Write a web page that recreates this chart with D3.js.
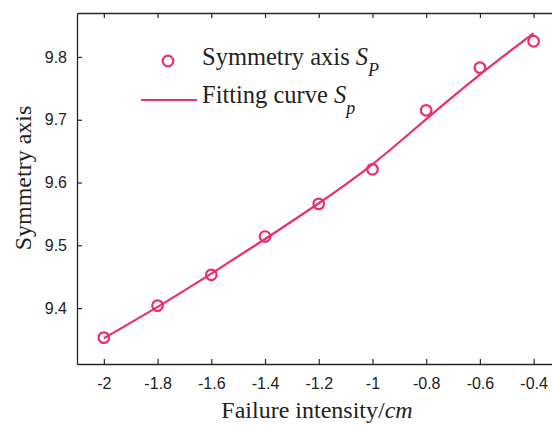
<!DOCTYPE html>
<html>
<head>
<meta charset="utf-8">
<script src="https://cdn.jsdelivr.net/npm/d3@7"></script>
<style>
  body { margin: 0; background: #fff; }
  svg { display: block; }
</style>
</head>
<body>
<svg id="chart" width="552" height="426"></svg>
<script>
// failure intensity (cm) along the bottom
var intensity = [-2, -1.8, -1.6, -1.4, -1.2, -1, -0.8, -0.6, -0.4];
// measured symmetry axis S_P (circles)
var symAxis = [9.353, 9.404, 9.453, 9.514, 9.566, 9.621, 9.715, 9.783, 9.825];
// fitted curve S_p read at the same x
var fitCurve = [9.352, 9.402, 9.455, 9.510, 9.567, 9.629, 9.701, 9.772, 9.838];

var xTicks = [-2, -1.8, -1.6, -1.4, -1.2, -1, -0.8, -0.6, -0.4];
var yTicks = [9.4, 9.5, 9.6, 9.7, 9.8];

var pink = "#ee2e6c";
var axisCol = "#262626";

var svg = d3.select("#chart");

// plot box (the right side runs past the picture)
var padL = 77, padT = 13, padB = 364;
var x = d3.scaleLinear().domain([-2.1, -0.3]).range([padL, 560.5]);
var y = d3.scaleLinear().domain([9.311, 9.87]).range([padB, padT]);

// axes, ticks pointing inward
svg.append("g")
    .attr("transform", "translate(0," + padB + ")")
    .call(d3.axisBottom(x).tickValues(xTicks).tickSizeInner(-5).tickSizeOuter(0)
        .tickPadding(14).tickFormat(function(d) { return String(d); }));
svg.append("g")
    .attr("transform", "translate(0," + padT + ")")
    .call(d3.axisTop(x).tickValues(xTicks).tickSizeInner(-5).tickSizeOuter(0)
        .tickFormat(""));
svg.append("g")
    .attr("transform", "translate(" + padL + ",0)")
    .call(d3.axisLeft(y).tickValues(yTicks).tickSizeInner(-5).tickSizeOuter(0)
        .tickPadding(10).tickFormat(d3.format(".1f")));

svg.selectAll(".domain").attr("stroke", axisCol).attr("stroke-width", 1.3);
svg.selectAll(".tick line").attr("stroke", axisCol).attr("stroke-width", 1.2);
svg.selectAll(".tick text")
    .attr("fill", "#222")
    .style("font-family", "'Liberation Sans', Arial, sans-serif")
    .style("font-size", "16px");

// fitting curve
var line = d3.line()
    .x(function(d, i) { return x(intensity[i]); })
    .y(function(d) { return y(d); })
    .curve(d3.curveNatural);
svg.append("path")
    .datum(fitCurve)
    .attr("d", line)
    .attr("fill", "none")
    .attr("stroke", pink)
    .attr("stroke-width", 2.2);

// measured points
svg.selectAll("circle.pt").data(symAxis).enter()
    .append("circle")
    .attr("class", "pt")
    .attr("cx", function(d, i) { return x(intensity[i]); })
    .attr("cy", function(d) { return y(d); })
    .attr("r", 5.3)
    .attr("fill", "none")
    .attr("stroke", pink)
    .attr("stroke-width", 2.2);

// axis titles
var serif = "'Liberation Serif', 'Times New Roman', serif";
var xt = svg.append("text")
    .attr("x", 317).attr("y", 418)
    .attr("text-anchor", "middle")
    .attr("fill", "#222")
    .style("font-family", serif).style("font-size", "24px");
xt.append("tspan").text("Failure intensity/");
xt.append("tspan").style("font-style", "italic").text("cm");

svg.append("text")
    .attr("transform", "translate(31,178) rotate(-90)")
    .attr("text-anchor", "middle")
    .attr("fill", "#222")
    .style("font-family", serif).style("font-size", "24px")
    .text("Symmetry axis");

// legend
svg.append("circle")
    .attr("cx", 168).attr("cy", 61).attr("r", 5.3)
    .attr("fill", "none").attr("stroke", pink).attr("stroke-width", 2.2);
svg.append("line")
    .attr("x1", 141).attr("x2", 197).attr("y1", 100).attr("y2", 100)
    .attr("stroke", pink).attr("stroke-width", 2.2);

var l1 = svg.append("text").attr("x", 202).attr("y", 65).attr("fill", "#222")
    .style("font-family", serif).style("font-size", "24.5px");
l1.append("tspan").text("Symmetry axis ");
l1.append("tspan").style("font-style", "italic").text("S");
l1.append("tspan").attr("dy", 11).style("font-style", "italic").style("font-size", "18px").text("P");

var l2 = svg.append("text").attr("x", 202).attr("y", 103).attr("fill", "#222")
    .style("font-family", serif).style("font-size", "24.5px");
l2.append("tspan").text("Fitting curve ");
l2.append("tspan").style("font-style", "italic").text("S");
l2.append("tspan").attr("dy", 11).style("font-style", "italic").style("font-size", "18px").text("p");
</script>
</body>
</html>
